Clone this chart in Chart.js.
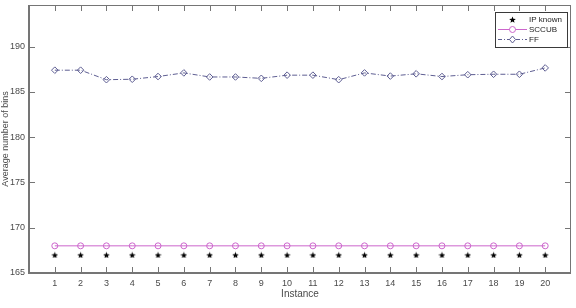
<!DOCTYPE html>
<html>
<head>
<meta charset="UTF-8">
<title>Average number of bins</title>
<script src="https://cdn.jsdelivr.net/npm/chart.js"></script>
<style>
  html, body { margin: 0; padding: 0; background: #fff; }
  #box { width: 576px; height: 308px; }
</style>
</head>
<body>
<div id="box"><canvas id="grafico"></canvas></div>
<script>
// data
const instances = [1,2,3,4,5,6,7,8,9,10,11,12,13,14,15,16,17,18,19,20];
const ipKnown = [167,167,167,167,167,167,167,167,167,167,167,167,167,167,167,167,167,167,167,167];
const sccub = [168,168,168,168,168,168,168,168,168,168,168,168,168,168,168,168,168,168,168,168];
const ff = [187.4,187.4,186.35,186.4,186.7,187.1,186.65,186.65,186.5,186.85,186.85,186.35,187.1,186.75,187.0,186.7,186.9,186.95,186.95,187.65];
const yTicks = [165,170,175,180,185,190];
const xTicks = instances;

const axisColor = '#757575';
const textColor = '#4a4a4a';
const ffColor = '#5e5e92';
const sccubColor = '#cc66cc';
const fonte = '"Liberation Sans", Arial, sans-serif';

// filled five point star as a marker
function makeStar(size) {
    const c = document.createElement('canvas');
    c.width = size; c.height = size;
    const g = c.getContext('2d');
    const r = size / 2, ri = r * 0.42;
    g.beginPath();
    for (let i = 0; i < 10; i++) {
        const rad = i % 2 ? ri : r;
        const a = -Math.PI / 2 + i * Math.PI / 5;
        g.lineTo(r + rad * Math.cos(a), r + 0.5 + rad * Math.sin(a));
    }
    g.closePath();
    g.fillStyle = '#000';
    g.fill();
    return c;
}
const star = makeStar(7);

function pts(arr) {
    return instances.map((x, i) => ({ x: x, y: arr[i] }));
}

// box, inward ticks and legend like the matlab figure
const moldura = {
    id: 'moldura',
    afterDatasetsDraw(chart) {
        const ctx = chart.ctx;
        const a = chart.chartArea;
        const xs = chart.scales.x, ys = chart.scales.y;
        ctx.save();
        ctx.strokeStyle = axisColor;
        ctx.lineWidth = 1;
        ctx.beginPath();
        xTicks.forEach(v => {
            const px = Math.round(xs.getPixelForValue(v)) + 0.5;
            ctx.moveTo(px, a.bottom); ctx.lineTo(px, a.bottom - 6);
            ctx.moveTo(px, a.top); ctx.lineTo(px, a.top + 6);
        });
        yTicks.forEach(v => {
            const py = Math.round(ys.getPixelForValue(v)) + 0.5;
            ctx.moveTo(a.left, py); ctx.lineTo(a.left + 6, py);
            ctx.moveTo(a.right, py); ctx.lineTo(a.right - 6, py);
        });
        // top and right edges, thin
        ctx.moveTo(a.left, a.top + 0.5); ctx.lineTo(a.right, a.top + 0.5);
        ctx.moveTo(a.right - 0.5, a.top); ctx.lineTo(a.right - 0.5, a.bottom);
        ctx.stroke();
        // left and bottom edges, thick
        ctx.lineWidth = 2;
        ctx.beginPath();
        ctx.moveTo(a.left, a.top); ctx.lineTo(a.left, a.bottom); ctx.lineTo(a.right, a.bottom);
        ctx.stroke();

        // legend
        const lx = 495, ly = 12, lw = 72, lh = 35;
        ctx.fillStyle = '#fff';
        ctx.fillRect(lx, ly, lw, lh);
        ctx.lineWidth = 1;
        ctx.strokeStyle = '#3a3a3a';
        ctx.strokeRect(lx + 0.5, ly + 0.5, lw, lh);
        ctx.font = '8px ' + fonte;
        ctx.fillStyle = '#222';
        ctx.textBaseline = 'middle';
        const rows = [
            { t: 'IP known', y: ly + 7.5 },
            { t: 'SCCUB', y: ly + 17.5 },
            { t: 'FF', y: ly + 27.5 }
        ];
        rows.forEach(r => ctx.fillText(r.t, lx + 34, r.y));
        const x0 = lx + 3, x1 = lx + 32, xm = (x0 + x1) / 2;
        ctx.drawImage(star, xm - 3.5, rows[0].y - 3.5);
        ctx.strokeStyle = sccubColor;
        ctx.beginPath(); ctx.moveTo(x0, rows[1].y); ctx.lineTo(x1, rows[1].y); ctx.stroke();
        ctx.fillStyle = '#fff';
        ctx.beginPath(); ctx.arc(xm, rows[1].y, 3, 0, Math.PI * 2); ctx.fill(); ctx.stroke();
        ctx.strokeStyle = ffColor;
        ctx.setLineDash([4, 2, 1, 2]);
        ctx.beginPath(); ctx.moveTo(x0, rows[2].y); ctx.lineTo(x1, rows[2].y); ctx.stroke();
        ctx.setLineDash([]);
        ctx.beginPath();
        ctx.moveTo(xm, rows[2].y - 3.5); ctx.lineTo(xm + 3, rows[2].y);
        ctx.lineTo(xm, rows[2].y + 3.5); ctx.lineTo(xm - 3, rows[2].y);
        ctx.closePath(); ctx.fill(); ctx.stroke();
        ctx.restore();
    }
};

new Chart(document.getElementById('grafico'), {
    type: 'line',
    data: {
        datasets: [
            {
                label: 'IP known',
                data: pts(ipKnown),
                showLine: false,
                pointStyle: star,
                borderColor: '#000',
                backgroundColor: '#000'
            },
            {
                label: 'SCCUB',
                data: pts(sccub),
                borderColor: sccubColor,
                borderWidth: 1,
                pointStyle: 'circle',
                pointRadius: 3,
                pointBorderWidth: 1,
                pointBackgroundColor: 'rgba(255,255,255,0)',
                pointBorderColor: sccubColor
            },
            {
                label: 'FF',
                data: pts(ff),
                borderColor: ffColor,
                borderWidth: 1,
                borderDash: [5, 2, 1, 2],
                pointStyle: 'rectRot',
                pointRadius: 3.3,
                pointBorderWidth: 1,
                pointBackgroundColor: 'rgba(255,255,255,0)',
                pointBorderColor: ffColor
            }
        ]
    },
    options: {
        responsive: true,
        maintainAspectRatio: false,
        animation: false,
        layout: { padding: { top: 3, right: 3, left: 0, bottom: 8 } },
        plugins: {
            legend: { display: false },
            tooltip: { enabled: false }
        },
        scales: {
            x: {
                type: 'linear',
                min: 0,
                max: 21,
                afterBuildTicks: s => { s.ticks = xTicks.map(v => ({ value: v })); },
                afterFit: s => { s.height = 27; s.paddingLeft = 0; s.paddingRight = 0; },
                grid: { display: false, drawTicks: false },
                border: { display: false },
                ticks: {
                    color: textColor,
                    padding: 5,
                    maxRotation: 0,
                    autoSkip: false,
                    font: { family: fonte, size: 9 }
                },
                title: {
                    display: true,
                    text: 'Instance',
                    color: textColor,
                    padding: { top: 2, bottom: 0 },
                    font: { family: fonte, size: 10 }
                }
            },
            y: {
                min: 165,
                max: 194.6,
                afterBuildTicks: s => { s.ticks = yTicks.map(v => ({ value: v })); },
                afterFit: s => { s.width = 29; s.paddingTop = 0; s.paddingBottom = 0; },
                grid: { display: false, drawTicks: false },
                border: { display: false },
                ticks: {
                    color: textColor,
                    padding: 4,
                    font: { family: fonte, size: 9 }
                },
                title: {
                    display: true,
                    text: 'Average number of bins',
                    color: textColor,
                    padding: { top: 0, bottom: 0 },
                    font: { family: fonte, size: 9 }
                }
            }
        }
    },
    plugins: [moldura]
});
</script>
</body>
</html>
